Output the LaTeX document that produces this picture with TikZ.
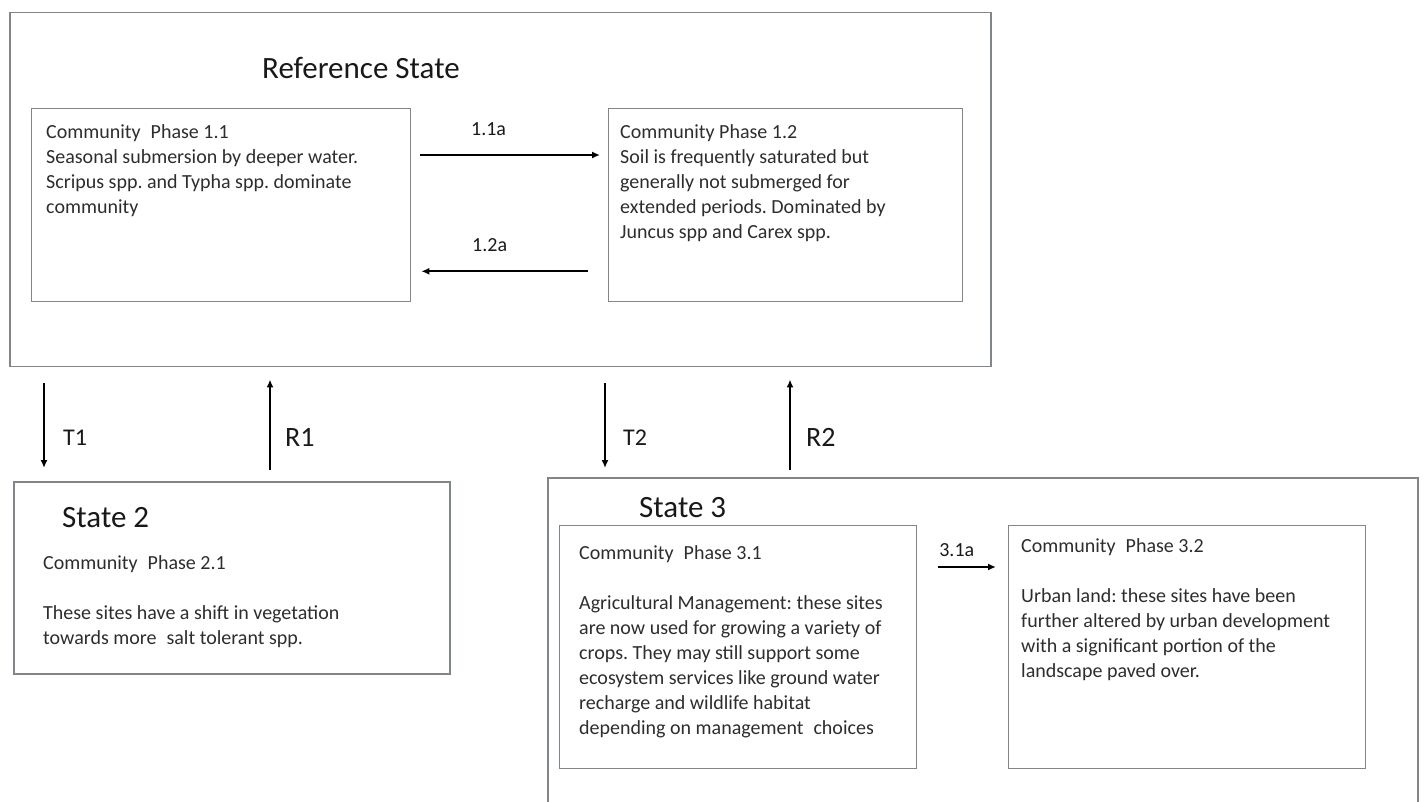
\documentclass[tikz,border=0pt]{standalone}
\usepackage{fontspec}
\setmainfont{Carlito}
\usepackage{xcolor}
\usetikzlibrary{positioning, arrows.meta, calc}
\frenchspacing

\definecolor{boxgray}{RGB}{128,134,138}
\definecolor{textgray}{RGB}{45,45,45}
\definecolor{titlegray}{RGB}{25,25,25}

\begin{document}
\begin{tikzpicture}[
x=1pt, y=-1pt,
    frame/.style = {rectangle, draw=boxgray, line width=1.5pt, inner sep=0pt, anchor=north west},
    phasebox/.style = {frame, line width=1.3pt},
    phasetext/.style = {anchor=north west, inner sep=0pt, align=left, text=textgray,
        font=\fontsize{20}{25}\selectfont},
    statetitle/.style = {anchor=west, inner sep=0pt, text=titlegray, font=\fontsize{31}{36}\selectfont},
    trans/.style = {-{Latex[length=8pt,width=7pt]}, line width=2.3pt},
    translabel/.style = {anchor=west, inner sep=0pt, text=titlegray, font=\fontsize{#1}{28}\selectfont},
    pathlabel/.style = {inner sep=0pt, text=titlegray, font=\fontsize{20}{24}\selectfont},
]
\useasboundingbox (0,0) rectangle (1425,802);
\clip (0,0) rectangle (1425,802);

% reference state
\node[frame, minimum width=981pt, minimum height=354pt] (ref) at (9,12) {};
\node[statetitle] (reftitle) at (262,68) {Reference State};

\node[phasebox, minimum width=379pt, minimum height=193pt] (p11) at (31,108) {};
\node[phasetext] (p11txt) at ([shift={(15,16)}]p11.north west)
    {Community\hspace{0.5em}Phase 1.1\\ Seasonal submersion by deeper water.\\
     Scripus spp. and Typha spp. dominate\\ community};

\node[phasebox, minimum width=354pt, minimum height=193pt] (p12) at (608,108) {};
\node[phasetext] (p12txt) at ([shift={(12,16)}]p12.north west)
    {Community Phase 1.2\\ Soil is frequently saturated but\\ generally not submerged for\\
     extended periods. Dominated by\\ Juncus spp and Carex spp.};

\draw[trans] ([shift={(9,47)}]p11.north east) -- node[pathlabel, pos=0.38, above=18pt] {1.1a}
    ([shift={(-8,47)}]p12.north west);
\draw[trans] ([shift={(-20,-31)}]p12.south west) -- node[pathlabel, pos=0.59, above=18pt] {1.2a}
    ([shift={(10,-31)}]p11.south east);

% state 2
\node[frame, minimum width=436pt, minimum height=192pt] (s2) at (13,481) {};
\node[statetitle] (s2title) at (62,518) {State 2};
\node[phasetext] (p21txt) at ([shift={(30,74)}]s2.north west)
    {Community\hspace{0.5em}Phase 2.1\\[25pt] These sites have a shift in vegetation\\ towards more\hspace{0.5em}salt tolerant spp.};

% state 3
\node[frame, minimum width=870pt, minimum height=340pt] (s3) at (547,477) {};
\node[statetitle] (s3title) at (639,508) {State 3};

\node[phasebox, minimum width=357pt, minimum height=243pt] (p31) at (559,525) {};
\node[phasetext] (p31txt) at ([shift={(20,20)}]p31.north west)
    {Community\hspace{0.5em}Phase 3.1\\[25pt] Agricultural Management: these sites\\
     are now used for growing a variety of\\ crops. They may still support some\\
     ecosystem services like ground water\\ recharge and wildlife habitat\\
     depending on management\hspace{0.5em}choices};

\node[phasebox, minimum width=357pt, minimum height=243pt] (p32) at (1008,525) {};
\node[phasetext] (p32txt) at ([shift={(13,13)}]p32.north west)
    {Community\hspace{0.5em}Phase 3.2\\[25pt] Urban land: these sites have been\\
     further altered by urban development\\ with a significant portion of the\\
     landscape paved over.};

\draw[trans] ([shift={(21,42)}]p31.north east) -- node[pathlabel, pos=0.32, above=9pt] {3.1a}
    ([shift={(-12,42)}]p32.north west);

% transitions between states
\draw[trans] ([shift={(35,16)}]ref.south west) -- node[translabel=24, pos=0.64, xshift=18pt] {T1}
    ([shift={(31,-13)}]s2.north west);
\draw[trans] ([shift={(257,-11)}]s2.north west) -- node[translabel=28, pos=0.36, xshift=14pt] {R1}
    ([shift={(261,12)}]ref.south west);
\draw[trans] ([shift={(596,16)}]ref.south west) -- node[translabel=24, pos=0.64, xshift=17pt] {T2}
    ([shift={(58,-9)}]s3.north west);
\draw[trans] ([shift={(243,-7)}]s3.north west) -- node[translabel=28, pos=0.36, xshift=15pt] {R2}
    ([shift={(781,12)}]ref.south west);

\end{tikzpicture}
\end{document}
